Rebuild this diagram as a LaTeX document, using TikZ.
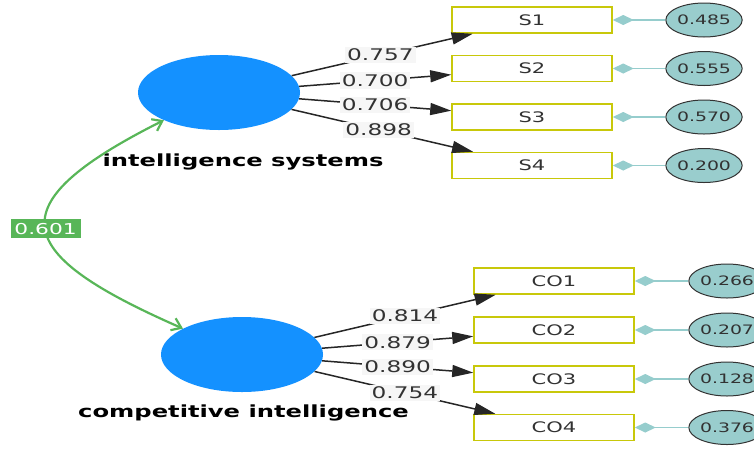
\documentclass[tikz,border=0pt]{standalone}
\usepackage{fontspec}
\setmainfont{DejaVu Sans}[FakeStretch=1.45]
\usetikzlibrary{shapes.geometric,arrows.meta}
\definecolor{lvblue}{RGB}{20,145,255}
\definecolor{errfill}{RGB}{153,205,205}
\definecolor{errline}{RGB}{150,205,205}
\definecolor{boxline}{RGB}{200,200,10}
\definecolor{covgreen}{RGB}{88,182,88}
\definecolor{txtgray}{RGB}{50,50,50}
\definecolor{lblbg}{RGB}{246,246,246}
\tikzset{
  latent/.style={ellipse, fill=lvblue, draw=none, minimum width=162pt, minimum height=75pt, inner sep=0pt},
  indbox/.style={rectangle, draw=boxline, line width=1.5pt, fill=white, minimum width=160pt, minimum height=26pt, inner sep=0pt, font=\fontsize{14.5}{16}\selectfont, text=txtgray},
  errell/.style={ellipse, draw=black!80, line width=1pt, fill=errfill, minimum width=70pt, minimum height=34pt, inner sep=0pt, font=\fontsize{13}{15}\selectfont, text=txtgray},
  loading/.style={draw=black!85, line width=1.5pt, -{Triangle[length=21pt,width=12pt]}},
  coef/.style={fill=lblbg, inner sep=2pt, font=\fontsize{16}{18}\selectfont, text=txtgray},
  errconn/.style={draw=errline, line width=1.6pt, -{Diamond[length=21pt,width=10pt]}},
  lvlabel/.style={font=\fontsize{16.7}{19}\selectfont\bfseries, text=black},
  cov/.style={draw=covgreen, line width=2.2pt, {Straight Barb[length=9pt,width=13pt]}-{Straight Barb[length=9pt,width=13pt]}},
  covlbl/.style={fill=covgreen, text=white, inner sep=2pt, minimum width=70pt, minimum height=19pt, font=\fontsize{15}{17}\selectfont}
}
\begin{document}
\begin{tikzpicture}[x=1pt,y=-1pt]
\useasboundingbox (0,0) rectangle (754,448);
% latent variables
\node[latent] (e1) at (219,92.5) {};
\node[latent] (e2) at (242,354.5) {};
\node[lvlabel] (l1) at (243,162) {intelligence systems};
\node[lvlabel] (l2) at (243.5,413) {competitive intelligence};
% indicator boxes
\node[indbox] (s1) at (532,20) {S1};
\node[indbox] (s2) at (532,68.5) {S2};
\node[indbox] (s3) at (532,117) {S3};
\node[indbox] (s4) at (532,165.5) {S4};
\node[indbox] (c1) at (554,281) {CO1};
\node[indbox] (c2) at (554,330) {CO2};
\node[indbox] (c3) at (554,379) {CO3};
\node[indbox] (c4) at (554,427.5) {CO4};
% error terms
\node[errell] (r1) at (704,20) {0.485};
\node[errell] (r2) at (704,68.5) {0.555};
\node[errell] (r3) at (704,117) {0.570};
\node[errell] (r4) at (704,165.5) {0.200};
\node[errell] (q1) at (727,281) {0.266};
\node[errell] (q2) at (727,330) {0.207};
\node[errell] (q3) at (727,379) {0.128};
\node[errell] (q4) at (727,427.5) {0.376};
\draw[errconn] (r1) -- (s1);
\draw[errconn] (r2) -- (s2);
\draw[errconn] (r3) -- (s3);
\draw[errconn] (r4) -- (s4);
\draw[errconn] (q1) -- (c1);
\draw[errconn] (q2) -- (c2);
\draw[errconn] (q3) -- (c3);
\draw[errconn] (q4) -- (c4);
% loadings
\draw[loading] (e1) -- node[coef, pos=0.49] (k1) {0.757} (s1);
\draw[loading] (e1) -- node[coef, pos=0.5] (k2) {0.700} (s2);
\draw[loading] (e1) -- node[coef, pos=0.5] (k3) {0.706} (s3);
\draw[loading] (e1) -- node[coef, pos=0.48] (k4) {0.898} (s4);
\draw[loading] (e2) -- node[coef, pos=0.5] (m1) {0.814} (c1);
\draw[loading] (e2) -- node[coef, pos=0.5] (m2) {0.879} (c2);
\draw[loading] (e2) -- node[coef, pos=0.5] (m3) {0.890} (c3);
\draw[loading] (e2) -- node[coef, pos=0.5] (m4) {0.754} (c4);
% covariance
\draw[cov] (e1) .. controls (-7,206) and (13,254) .. node[covlbl, pos=0.5] (cv) {0.601} (e2);
\end{tikzpicture}
\end{document}
